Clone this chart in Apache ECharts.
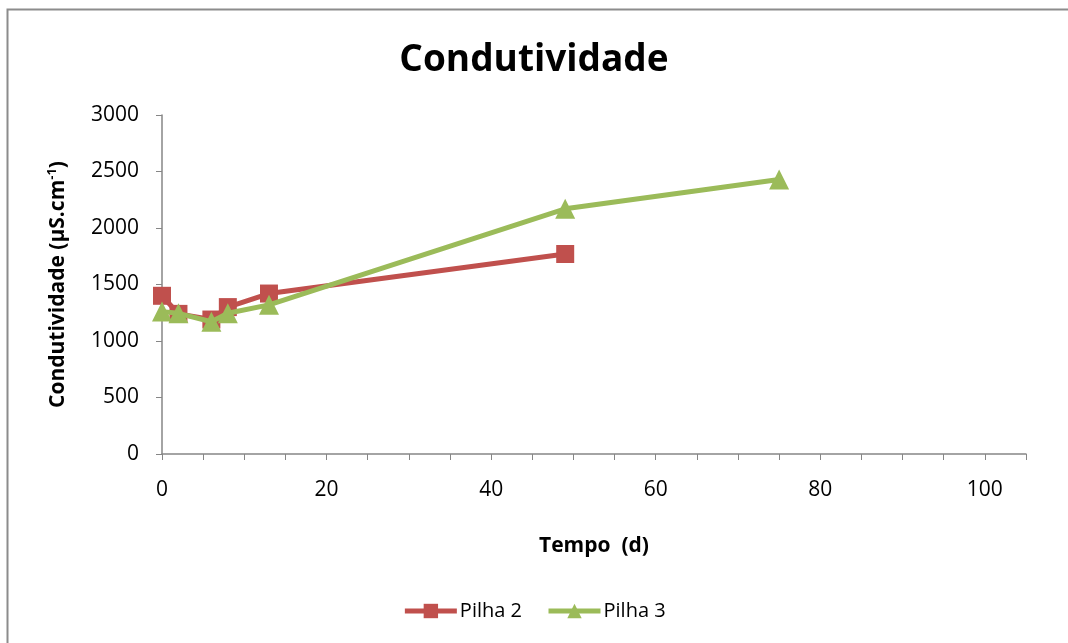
<!DOCTYPE html>
<html>
<head>
<meta charset="utf-8">
<script src="https://cdn.jsdelivr.net/npm/echarts@6/dist/echarts.min.js"></script>
<style>
  html, body { margin: 0; padding: 0; background: #fff; overflow: hidden; }
  #chart { width: 1068px; height: 643px; }
</style>
</head>
<body>
<div id="chart"></div>
<script>
// Conductivity over time for two heaps
const seriesNames = ['Pilha 2', 'Pilha 3'];
const pilha2Days = [0, 2, 6, 8, 13, 49];
const pilha2Values = [1400, 1240, 1190, 1300, 1420, 1770];
const pilha3Days = [0, 2, 6, 8, 13, 49, 75];
const pilha3Values = [1260, 1245, 1170, 1245, 1320, 2170, 2430];
const xLabels = [0, 20, 40, 60, 80, 100];

const FONT = '"Open Sans", sans-serif';
const AXIS_GRAY = '#868686';

const pair = (xs, ys) => xs.map((x, i) => [x, ys[i]]);

const chart = echarts.init(document.getElementById('chart'));
chart.setOption({
  animation: false,
  backgroundColor: '#fff',
  textStyle: { fontFamily: FONT },
  graphic: [{
    type: 'polyline',
    shape: { points: [[7.5, 643], [7.5, 9.5], [1068, 9.5]] },
    style: { fill: 'none', stroke: '#8c8c8c', lineWidth: 2 },
    silent: true
  }],
  title: {
    text: 'Condutividade',
    left: 'center',
    top: 37,
    textStyle: { fontFamily: FONT, fontWeight: 'bold', fontSize: 37, color: '#000' }
  },
  legend: {
    bottom: 17,
    left: 'center',
    itemWidth: 52,
    itemHeight: 18,
    itemGap: 24,
    lineStyle: { width: 5 },
    textStyle: { fontFamily: FONT, fontSize: 20, color: '#000', padding: [0, 0, 0, -2] },
    data: seriesNames
  },
  grid: { left: 162, right: 42, top: 115, bottom: 189 },
  xAxis: {
    type: 'value',
    min: 0,
    max: 105,
    interval: 5,
    name: 'Tempo  (d)',
    nameLocation: 'middle',
    nameGap: 82,
    nameTextStyle: { fontFamily: FONT, fontWeight: 'bold', fontSize: 21, color: '#000' },
    axisLine: { lineStyle: { color: AXIS_GRAY, width: 1.5 } },
    axisTick: { inside: false, length: 6, lineStyle: { color: AXIS_GRAY } },
    splitLine: { show: false },
    axisLabel: {
      fontFamily: FONT, fontSize: 21, color: '#000', margin: 26,
      formatter: v => (xLabels.includes(v) ? String(v) : '')
    }
  },
  yAxis: {
    type: 'value',
    min: 0,
    max: 3000,
    interval: 500,
    name: '{n|Condutividade (µS.cm}{s|-1}{n|)}',
    nameLocation: 'middle',
    nameGap: 91,
    nameRotate: 90,
    nameTextStyle: {
      rich: {
        n: { fontFamily: FONT, fontWeight: 'bold', fontSize: 21, color: '#000' },
        s: { fontFamily: FONT, fontWeight: 'bold', fontSize: 13, color: '#000', verticalAlign: 'top', padding: [0, 0, 12, 0] }
      }
    },
    axisLine: { show: true, lineStyle: { color: AXIS_GRAY, width: 1.5 } },
    axisTick: { show: true, inside: false, length: 6, lineStyle: { color: AXIS_GRAY } },
    splitLine: { show: false },
    axisLabel: { fontFamily: FONT, fontSize: 21, color: '#000', margin: 23, formatter: v => String(v) }
  },
  series: [
    {
      name: seriesNames[0],
      type: 'line',
      data: pair(pilha2Days, pilha2Values),
      symbol: 'rect',
      symbolSize: 18,
      lineStyle: { color: '#C0504D', width: 5 },
      itemStyle: { color: '#C0504D' },
      z: 2
    },
    {
      name: seriesNames[1],
      type: 'line',
      data: pair(pilha3Days, pilha3Values),
      symbol: 'triangle',
      symbolSize: 20,
      lineStyle: { color: '#9BBB59', width: 5 },
      itemStyle: { color: '#9BBB59' },
      z: 3
    }
  ]
});
</script>
</body>
</html>
